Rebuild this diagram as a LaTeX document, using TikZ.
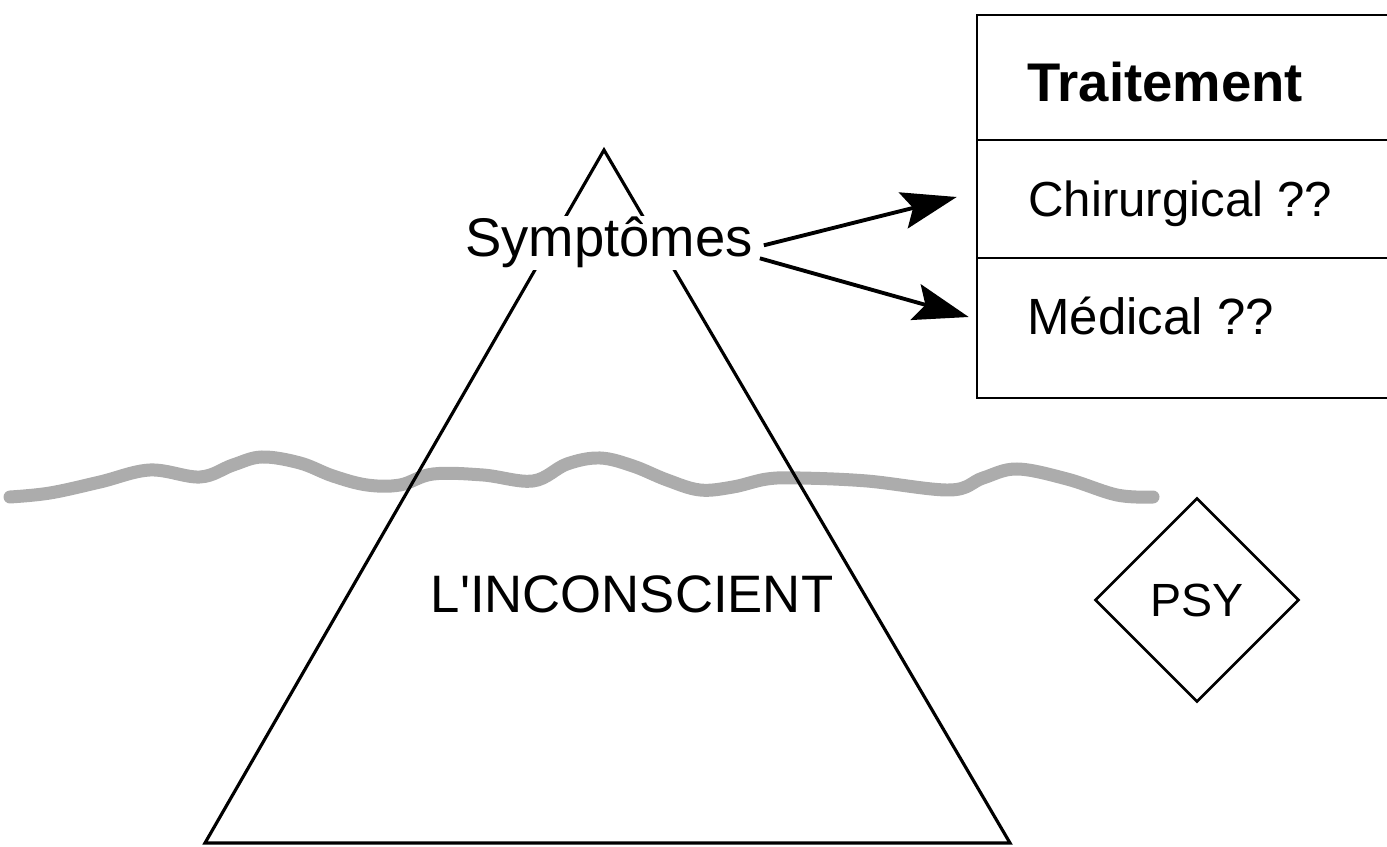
\documentclass[tikz,border=0pt]{standalone}
\usepackage{fontspec}
\setmainfont{Liberation Sans}
\usetikzlibrary{arrows.meta,shapes.geometric}

\begin{document}
\begin{tikzpicture}[x=0.02cm,y=-0.02cm,
  >={Stealth[length=1.1cm,width=0.74cm,inset=0.2cm]},
  text node/.style={inner sep=0pt,font=\fontsize{28}{34}\selectfont},
  main node/.style={inner sep=1pt,fill=white,font=\fontsize{31}{36}\selectfont},
  row node/.style={draw,line width=1.5pt,minimum width=8.46cm,inner sep=0pt},
  water/.style={line width=0.26cm,gray!65,line cap=round}]
  \clip (0,0) rectangle (1387,847);
  % water line
  \draw[water] plot[smooth,tension=0.6] coordinates {(10,497) (50,493) (100,482)
    (150,470) (200,477) (233,465) (262,457) (300,463) (333,476) (367,485)
    (400,485) (433,474) (483,475) (533,481) (567,464) (600,458) (633,466)
    (667,480) (700,490) (733,487) (767,479) (800,478) (867,481) (950,490)
    (983,478) (1017,469) (1067,479) (1117,495) (1153,497)};
  % iceberg
  \coordinate (top) at (604,150);
  \coordinate (bl)  at (205,843);
  \coordinate (br)  at (1010,843);
  \draw[line width=1.8pt] (top) -- (br) -- (bl) -- cycle;
  \node[main node,anchor=base]          (sym)    at (609,257) {Symptômes};
  \node[main node,fill=none,anchor=base,font=\fontsize{30}{36}\selectfont]
                                        (incons) at (632,613) {L\textquotesingle INCONSCIENT};
  % table
  \node[row node,minimum height=2.5cm]  (traitrow) at (1188.5,77.5) {};
  \node[row node,minimum height=2.36cm] (chirrow)  at (1188.5,199)  {};
  \node[row node,minimum height=2.8cm]  (medrow)   at (1188.5,328)  {};
  \node[text node,anchor=base west,font=\bfseries\fontsize{31}{36}\selectfont]
                                        (trait) at (1027,102) {Traitement};
  \node[text node,anchor=base west]     (chir)  at (1028,217) {Chirurgical ??};
  \node[text node,anchor=base west,font=\fontsize{29}{34}\selectfont]
                                        (med)   at (1027,335) {Médical ??};
  % psy
  \node[draw,diamond,line width=1.5pt,minimum width=4.08cm,minimum height=4.08cm,
    inner sep=0pt,font=\fontsize{26.5}{30}\selectfont] (psy) at (1197,600) {PSY};
  \path[line width=2.2pt]
    ([xshift=0.18cm,yshift=-0.05cm]sym.east) edge [->] ([xshift=-0.38cm,yshift=0.04cm]chirrow.west)
    ([xshift=0.1cm,yshift=-0.31cm]sym.east)  edge [->] ([xshift=-0.14cm,yshift=0.22cm]medrow.west);
\end{tikzpicture}
\end{document}
